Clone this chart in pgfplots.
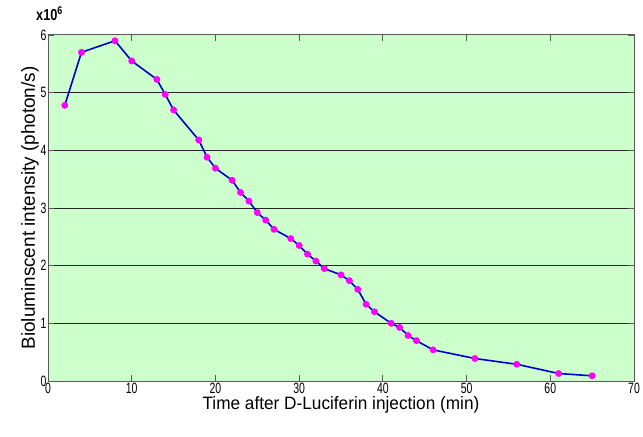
\documentclass[border=0pt]{standalone}
\usepackage{pgfplots}
\pgfplotsset{compat=1.18}
\usepackage{fontspec}
\setmainfont{Liberation Sans}
\definecolor{bgreen}{RGB}{204,255,204}
\definecolor{lblue}{RGB}{0,0,200}
\definecolor{mpink}{RGB}{255,0,255}
\begin{document}
\begin{tikzpicture}
\begin{axis}[
  scale only axis,
  width=586bp, height=346bp,
  xmin=0, xmax=70, ymin=0, ymax=6,
  xtick={0,10,...,70}, ytick={0,1,...,6},
  tick align=inside,
  major tick length=6bp,
  axis background/.style={fill=bgreen},
  axis line style={black!65, line width=1bp},
  tick style={black!65, line width=0.8bp},
  ymajorgrids,
  grid style={black!85, line width=1bp},
  /pgf/number format/assume math mode=true,
  xticklabel={\scalebox{0.7}[1]{\pgfmathprintnumber{\tick}}},
  yticklabel={\scalebox{0.7}[1]{\pgfmathprintnumber{\tick}}},
  ticklabel style={font=\fontsize{15}{15}\selectfont},
  xticklabel style={yshift=1bp},
  yticklabel style={xshift=2bp},
  xlabel={\scalebox{0.96}[1]{Time after D-Luciferin injection (min)}},
  ylabel={Bioluminscent intensity (photon/s)},
  xlabel style={font=\fontsize{18}{18}\selectfont, yshift=4bp},
  ylabel style={font=\fontsize{19}{19}\selectfont, yshift=-5bp},
]
\addplot[color=lblue, line width=1.6bp, mark=*, mark size=2.6bp,
  mark options={fill=mpink, draw=mpink}] coordinates {
  (2,4.78)(4,5.70)(8,5.90)(10,5.55)(13,5.23)(14,4.97)(15,4.70)
  (18,4.18)(19,3.88)(20,3.69)(22,3.48)(23,3.27)(24,3.12)(25,2.92)
  (26,2.79)(27,2.63)(29,2.47)(30,2.35)(31,2.20)(32,2.08)(33,1.95)
  (35,1.84)(36,1.74)(37,1.59)(38,1.33)(39,1.20)(41,1.00)(42,0.93)
  (43,0.79)(44,0.70)(46,0.54)(51,0.39)(56,0.29)(61,0.13)(65,0.09)
};
\end{axis}
\node[anchor=south west, inner sep=0pt, font=\bfseries\fontsize{16}{16}\selectfont]
  at ([xshift=-12bp, yshift=14bp]current axis.north west) {\scalebox{0.8}[1]{x10$^{\mathbf 6}$}};
\pgfresetboundingbox
\path ([xshift=-48bp, yshift=-55bp]current axis.south west)
  rectangle ([xshift=9bp, yshift=35bp]current axis.north east);
\end{tikzpicture}
\end{document}
